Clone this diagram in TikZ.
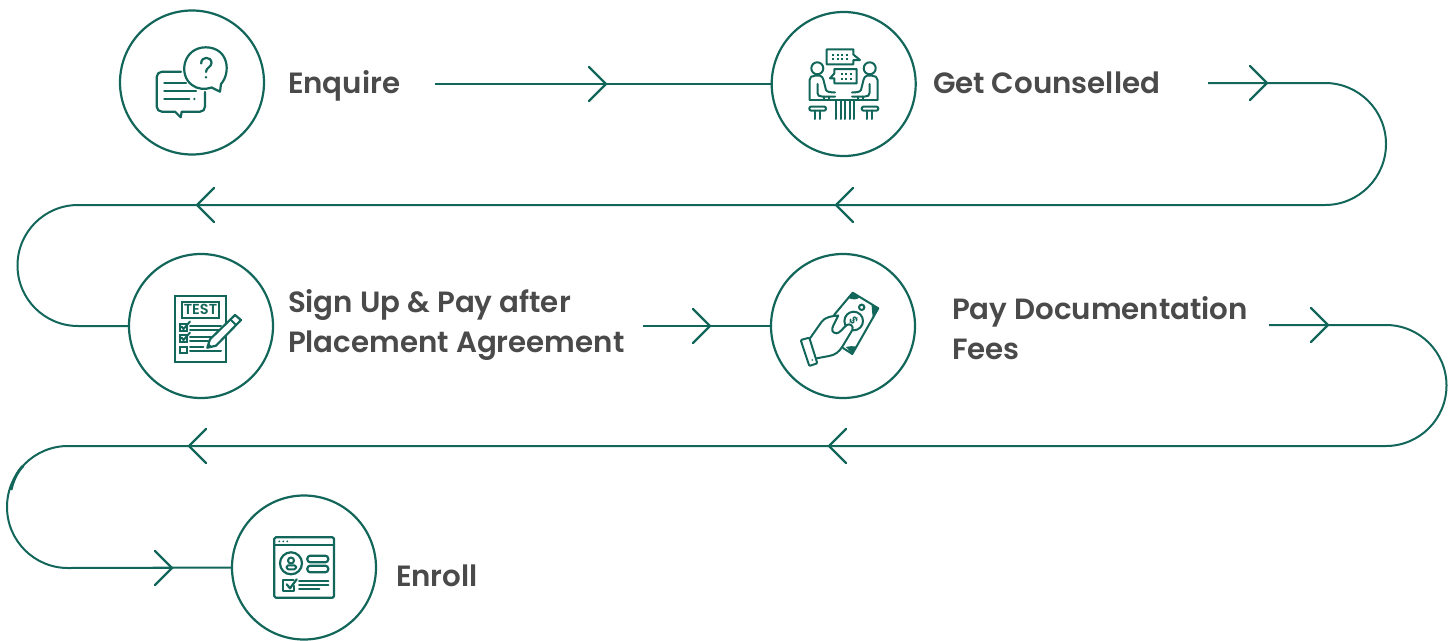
\documentclass[tikz,border=0pt]{standalone}
\usepackage{fontspec}
\newfontfamily\popfont{Poppins SemiBold}
\definecolor{flowgreen}{HTML}{12665A}
\definecolor{labelgrey}{HTML}{4A4A4A}
\tikzset{
  flow/.style={draw=flowgreen,line width=2pt,line join=miter},
  ring/.style={circle,draw=flowgreen,line width=2.2pt,fill=white,minimum size=144pt,inner sep=0pt,outer sep=0pt},
  label/.style={anchor=base west,inner sep=0pt,outer sep=0pt,text=labelgrey,font=\popfont\fontsize{29.3}{32}\selectfont},
  ico/.style={draw=flowgreen,line width=2.2pt,line join=round,line cap=round},
  icothin/.style={ico,line width=2pt},
  chev/.pic={\draw[flow,line width=2.2pt,line cap=round] (-17,-17) -- (0,0) -- (-17,17);}
}
\begin{document}
\begin{tikzpicture}[x=1pt,y=-1pt]
\useasboundingbox (0,0) rectangle (1456,640);
% free ends
\coordinate (s1) at (435,84);
\coordinate (s2) at (1208,83);
\coordinate (s3) at (643,326);
\coordinate (s4) at (1269,325);
% rings
\node[ring] (c1) at (192,82.5) {};
\node[ring] (c2) at (843.7,84) {};
\node[ring] (c3) at (201,326) {};
\node[ring] (c4) at (843,326) {};
\node[ring] (c5) at (304,567.5) {};
% connectors
\draw[flow] (s1) -- (c2.west);
\draw[flow] (s2) -- (1325,83) arc[start angle=-90,end angle=90,radius=61] -- (78,205) arc[start angle=-90,end angle=-270,radius=60.5] -- (c3.west);
\draw[flow] (s3) -- (c4.west);
\draw[flow] (s4) -- (1386,325) arc[start angle=-90,end angle=90,radius=60.5] -- (68,446) arc[start angle=-90,end angle=-270,radius=61] -- (c5.west);
\draw[flowgreen,line width=2.6pt] (988,446) -- (1173,446);
\draw[flowgreen,line width=2.4pt] (105,568) -- (172,568);
\draw[flowgreen,line width=2.8pt] (23,466) .. controls (17,472) and (13,481) .. (11,490);
% chevrons
\pic at (606,84) {chev};
\pic at (1267,83) {chev};
\pic[rotate=180] at (197,205) {chev};
\pic[rotate=180] at (836,205) {chev};
\pic at (710,326) {chev};
\pic at (1328,325) {chev};
\pic[rotate=180] at (829,446) {chev};
\pic[rotate=180] at (189,446) {chev};
\pic at (172,568) {chev};
% labels
\node[label] (t1) at (288,93) {Enquire};
\node[label] (t2) at (933,93) {Get Counselled};
\node[label] (t3a) at (288,312) {Sign Up \& Pay after};
\node[label] (t3b) at (288,352) {Placement Agreement};
\node[label] (t4a) at (952,319) {Pay Documentation};
\node[label] (t4b) at (952,359) {Fees};
\node[label] (t5) at (396,586) {Enroll};
% icon 1: chat with question
\draw[ico] (221,84) -- (220,91.7) -- (211.7,87.5) .. controls (205,90) and (197,89) .. (192,85) .. controls (178,75) and (183,47.5) .. (205.7,47.3) .. controls (229,47.5) and (231,73) .. (221,84);
\draw[ico] (201.2,63.5) .. controls (201,56) and (211.5,56) .. (211.5,63) .. controls (211.5,67) and (206,67.5) .. (206,72);
\fill[flowgreen] (206,77.3) circle[radius=1.4];
\draw[ico] (181,71.7) -- (162,71.7) .. controls (159,71.7) and (156.7,74) .. (156.7,77) -- (156.7,106.5) .. controls (156.7,109.5) and (159,111.7) .. (162,111.7) -- (175,111.7) -- (180.7,117.3) -- (181.7,111.7) -- (200,111.7) .. controls (203,111.7) and (205,109.5) .. (205,106.5) -- (205,92);
\draw[ico] (164.3,83.3) -- (186,83.3);
\draw[ico] (164.3,91) -- (196,91);
\draw[ico] (164.3,99) -- (189.3,99);
\fill[flowgreen] (194.3,99) circle[radius=1.3];
% icon 2: counselling
\draw[icothin] (826.7,49.3) -- (853.3,49.3) -- (853.3,54.5) -- (860,60) -- (853.3,60) -- (853.3,64.3) -- (826.7,64.3) -- cycle;
\draw[icothin] (834.3,69) -- (856.7,69) -- (856.7,83.3) -- (834.3,83.3) -- (834.3,78.3) -- (830,78.3) -- (834.3,73.5) -- cycle;
\foreach \dx in {833,837.5,842,846.5} \foreach \dy in {54.5,59}{\fill[flowgreen] (\dx-1,\dy-1) rectangle (\dx+1,\dy+1);}
\foreach \dx in {841.5,846,850.5} \foreach \dy in {73.5,78.5}{\fill[flowgreen] (\dx-1,\dy-1) rectangle (\dx+1,\dy+1);}
\draw[icothin] (817.3,68.3) circle[radius=6];
\draw[icothin] (869.7,68.3) circle[radius=6];
\draw[icothin] (809.5,100) -- (809.5,80) .. controls (809.5,77) and (812,75.7) .. (815,75.7) -- (820,75.7) .. controls (822,76) and (823,78) .. (823.5,80) -- (826,90) .. controls (827,92) and (830,92.3) .. (835,92.5);
\draw[icothin] (817.5,84) -- (817.5,93) .. controls (817.5,95.5) and (819,96.5) .. (822,96.5) -- (835,96.5);
\draw[icothin] (877.5,100) -- (877.5,80) .. controls (877.5,77) and (875,75.7) .. (872,75.7) -- (867,75.7) .. controls (865,76) and (864,78) .. (863.5,80) -- (861,90) .. controls (860,92) and (857,92.3) .. (852,92.5);
\draw[icothin] (869.5,84) -- (869.5,93) .. controls (869.5,95.5) and (868,96.5) .. (865,96.5) -- (852,96.5);
\draw[icothin] (810,100) -- (877,100);
\draw[icothin] (824,96.5) -- (824,100) (829,96.5) -- (829,100) (858,96.5) -- (858,100) (863,96.5) -- (863,100);
\draw[icothin] (836,100) -- (836,119) (840.5,100) -- (840.5,119) (845,100) -- (845,119) (849.5,100) -- (849.5,119) (854,100) -- (854,119);
\draw[icothin,rounded corners=2pt] (809.3,106.5) rectangle (826,110.7);
\draw[icothin,rounded corners=2pt] (861.7,106.5) rectangle (878.3,110.7);
\draw[icothin] (815,110.7) -- (815,119) (820,110.7) -- (820,119) (866.7,110.7) -- (866.7,119) (871.7,110.7) -- (871.7,119);
% icon 3: test sheet
\draw[ico,line join=miter] (175,296) rectangle (226,361.7);
\draw[ico,line join=miter] (181.7,301.7) rectangle (219.3,317.7);
\node[inner sep=0pt,text=flowgreen,font=\popfont\fontsize{14.5}{14.5}\selectfont] (testword) at (200.5,309.7) {TEST};
\draw[ico,line join=miter] (180,324) rectangle (186.7,330.7);
\draw[ico,line join=miter] (180,335) rectangle (186.7,341.7);
\draw[ico,line join=miter] (180,346.7) rectangle (186.7,353);
\draw[icothin] (181.5,326.5) -- (183.5,329) -- (190,321.5);
\draw[icothin] (181.5,337.5) -- (183.5,340) -- (190,332.5);
\draw[icothin] (190,325.7) -- (221,325.7) (190,330) -- (221,330) (190,336.7) -- (221,336.7) (190,341) -- (208,341) (190,347.3) -- (203.3,347.3) (190,351.3) -- (221,351.3);
\draw[ico,fill=white] (207.3,347.7) -- (210,339.3) -- (235,315) -- (241,320) -- (216,345.7) -- cycle;
\draw[icothin] (230.5,319.5) -- (236,325);
\fill[flowgreen] (207.3,347.7) -- (208.5,343) -- (212,346.5) -- cycle;
% icon 4: money
\draw[icothin] (834,315) -- (852.7,292.7) -- (878.3,308.3) -- (852.3,354) -- (843,348);
\fill[flowgreen] (852.7,292.7) -- (860,297) .. controls (857,300) and (853,300) .. (848.5,298) -- cycle;
\fill[flowgreen] (878.3,308.3) -- (873,318) .. controls (872,314) and (872,309) .. (871.5,304.5) -- cycle;
\fill[flowgreen] (852.3,354) -- (846,347) .. controls (850,346) and (853,346) .. (856.5,346.5) -- cycle;
\draw[icothin] (861.7,307.3) circle[radius=2.7];
\draw[icothin] (853.7,321) circle[radius=9.3];
\node[inner sep=0pt,rotate=-60,text=flowgreen,font=\popfont\fontsize{11}{11}\selectfont] (dollar) at (853.7,321) {\$};
\draw[icothin,fill=white] (810,338.3) -- (821.7,321.7) .. controls (825,317) and (832,316) .. (838.3,315.5) -- (833.5,325) .. controls (831,330) and (832,333) .. (836.7,333.3) .. controls (840,333) and (843,328) .. (846.7,325) .. controls (850,323) and (854,326) .. (852.3,330) -- (842.3,346.7) .. controls (839,352) and (835,355) .. (829,356) -- (816.7,358.3);
\draw[icothin,rounded corners=1pt] (800.7,340) -- (809.3,337.7) -- (817.3,363.3) -- (809.3,366) -- cycle;
\fill[flowgreen] (812.3,360) circle[radius=0.9];
% icon 5: enrol window
\draw[ico,rounded corners=1.5pt] (274.3,537.3) rectangle (334,597.7);
\draw[ico] (274.3,545) -- (334,545);
\foreach \dx in {279.3,283.3,287.3}{\fill[flowgreen] (\dx,541.3) circle[radius=1];}
\draw[ico] (291,563.3) circle[radius=11];
\draw[icothin] (291,560.5) circle[radius=3];
\draw[icothin,rounded corners=1.5pt] (286.7,565.3) rectangle (296,569.3);
\draw[ico,rounded corners=3pt] (307.3,555.7) rectangle (328.3,562.3);
\draw[ico,rounded corners=3pt] (307.3,565.7) rectangle (328.3,572.3);
\draw[ico] (293.5,580) -- (283.3,580) -- (283.3,590.7) -- (294,590.7) -- (294,586);
\draw[ico] (286.7,584.3) -- (290,588.3) -- (296.7,579.3);
\draw[icothin] (299,580.7) -- (328.3,580.7) (299,585) -- (328.3,585) (299,589.3) -- (319.3,589.3);
\end{tikzpicture}
\end{document}
